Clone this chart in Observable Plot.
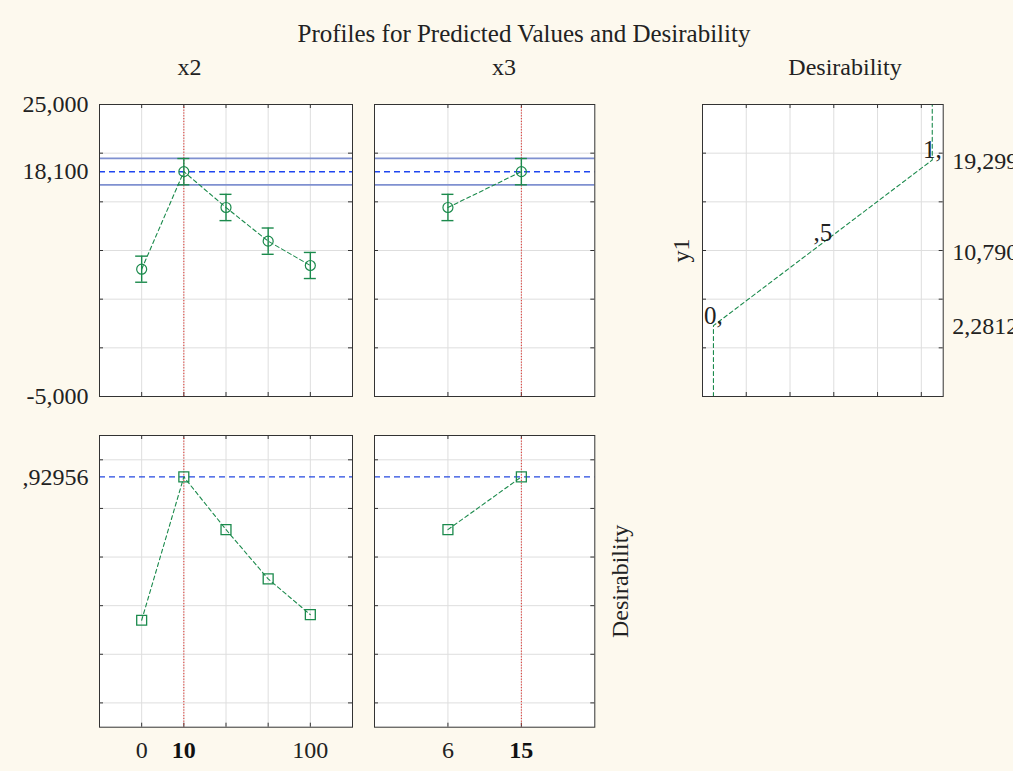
<!DOCTYPE html>
<html><head><meta charset="utf-8">
<script src="https://cdn.jsdelivr.net/npm/d3@7"></script>
<script src="https://cdn.jsdelivr.net/npm/@observablehq/plot@0.6"></script>
<style>
body{margin:0;background:#fdf9ee;}
#root{position:relative;width:1013px;height:771px;overflow:hidden;background:#fdf9ee;font-family:"Liberation Serif","Times New Roman",serif;color:#222;}
#root svg{position:absolute;}
.lbl{position:absolute;font-size:24px;white-space:nowrap;transform:translate(-50%,-50%);line-height:1.1;}
</style></head>
<body><div id="root"></div>
<script>
// ---------- data ----------
const x2Labels = ["0", "10", "", "", "100"];
const x2Pred = [8080, 18100, 14420, 10960, 8460];
const x2Err = [1340, 1350, 1350, 1350, 1340];
const x2Desir = [0.340, 0.92956, 0.713, 0.510, 0.363];
const x3Labels = ["6", "15"];
const x3Pred = [14420, 18100];
const x3Err = [1350, 1350];
const x3Desir = [0.713, 0.92956];
const optX2 = "10", optX3 = "15";
const predOpt = 18100, ciUpper = 19460, ciLower = 16740;
const desirOpt = 0.92956;
const predTicks = [25000, 18100, -5000];
const predTickLabels = ["25,000", "18,100", "-5,000"];
const desirTickLabels = [",92956"];
const desirFnD = [0, 0, 0.5, 1, 1];
const desirFnY = [-5000, 2281.2, 10790, 19299, 25000];
const desirFnMarks = ["", "0,", ",5", "1,", ""];
const desirFnValues = ["", "2,2812", "10,790", "19,299", ""];
const titleText = "Profiles for Predicted Values and Desirability";

// ---------- style ----------
const GREEN = "#1b8a4c", BLUE = "#2448e0", BLUE_CI = "#7f90d0", RED = "#e0302a", GRID = "#dedede", FRAME = "#333";
const FONT = "Liberation Serif, Times New Roman, serif";
const root = document.getElementById("root");

const x2Data = x2Labels.map((l, i) => ({pos: i + 1, label: l, pred: x2Pred[i], err: x2Err[i], d: x2Desir[i]}));
const x3Data = x3Labels.map((l, i) => ({pos: i + 1, label: l, pred: x3Pred[i], err: x3Err[i], d: x3Desir[i]}));
const fnData = desirFnD.map((d, i) => ({d, y: desirFnY[i], mark: desirFnMarks[i], val: desirFnValues[i]}));

function innerTicks(xDom, yDom, xVals, yVals, w, h, len = 4) {
  const ux = (xDom[1] - xDom[0]) / w * len, uy = (yDom[1] - yDom[0]) / h * len;
  const o = {stroke: FRAME, strokeWidth: 1};
  return [
    Plot.ruleY(yVals, {y: d => d, x1: xDom[0], x2: xDom[0] + ux, ...o}),
    Plot.ruleY(yVals, {y: d => d, x1: xDom[1] - ux, x2: xDom[1], ...o}),
    Plot.ruleX(xVals, {x: d => d, y1: yDom[0], y2: yDom[0] + uy, ...o}),
    Plot.ruleX(xVals, {x: d => d, y1: yDom[1] - uy, y2: yDom[1], ...o})
  ];
}

function panel({left, top, width, height, mL, mR, mT, mB, xDom, yDom, xGrid, yGrid, marks}) {
  const iw = width - mL - mR, ih = height - mT - mB;
  const svg = Plot.plot({
    width, height, marginLeft: mL, marginRight: mR, marginTop: mT, marginBottom: mB,
    x: {domain: xDom, axis: null},
    y: {domain: yDom, axis: null},
    style: {background: "transparent", fontFamily: FONT, overflow: "visible", color: "#222"},
    marks: [
      Plot.frame({fill: "white", stroke: null}),
      Plot.gridX(xGrid, {stroke: GRID, strokeOpacity: 1}),
      Plot.gridY(yGrid, {stroke: GRID, strokeOpacity: 1}),
      ...innerTicks(xDom, yDom, xGrid, yGrid, iw, ih),
      ...marks(iw, ih),
      Plot.frame({stroke: FRAME, strokeWidth: 1})
    ]
  });
  svg.style.left = left + "px";
  svg.style.top = top + "px";
  root.appendChild(svg);
}

const predDom = [-5000, 25000];
const predGrid = [0, 5000, 10000, 15000, 20000];
const desDom = [-0.1, 1.1];
const desGrid = [0, 0.2, 0.4, 0.6, 0.8, 1.0];

function predMarks(data, xDom, opt, yLabels) {
  return (iw, ih) => {
    const cap = (xDom[1] - xDom[0]) / iw * 6;
    const m = [
      Plot.ruleY([ciUpper, ciLower], {y: d => d, stroke: BLUE_CI, strokeWidth: 1.6}),
      Plot.ruleY([predOpt], {y: d => d, stroke: "#1f46f0", strokeOpacity: 1, strokeWidth: 1.5, strokeDasharray: "6,4"}),
      Plot.ruleX(data.filter(d => d.label === opt), {x: "pos", stroke: RED, strokeWidth: 1, strokeDasharray: "1.2,1.6"}),
      Plot.line(data, {x: "pos", y: "pred", stroke: GREEN, strokeWidth: 1.1, strokeDasharray: "4,3"}),
      Plot.ruleX(data, {x: "pos", y1: d => d.pred - d.err, y2: d => d.pred + d.err, stroke: GREEN, strokeWidth: 1.4}),
      Plot.ruleY(data, {y: d => d.pred - d.err, x1: d => d.pos - cap, x2: d => d.pos + cap, stroke: GREEN, strokeWidth: 1.4}),
      Plot.ruleY(data, {y: d => d.pred + d.err, x1: d => d.pos - cap, x2: d => d.pos + cap, stroke: GREEN, strokeWidth: 1.4}),
      Plot.dot(data, {x: "pos", y: "pred", r: 5, stroke: GREEN, strokeWidth: 1.2, fill: "none"})
    ];
    if (yLabels) m.push(Plot.text(predTicks, {y: d => d, text: (d, i) => predTickLabels[i], frameAnchor: "left", textAnchor: "end", dx: -11, fontSize: 24, fill: "#222"}));
    return m;
  };
}

function desMarks(data, opt, yLabels, rightLabel) {
  return (iw, ih) => {
    const m = [
      Plot.ruleY([desirOpt], {y: d => d, stroke: BLUE, strokeWidth: 1.3, strokeDasharray: "6,4"}),
      Plot.ruleX(data.filter(d => d.label === opt), {x: "pos", stroke: RED, strokeWidth: 1, strokeDasharray: "1.2,1.6"}),
      Plot.line(data, {x: "pos", y: "d", stroke: GREEN, strokeWidth: 1.1, strokeDasharray: "4,3"}),
      Plot.dot(data, {x: "pos", y: "d", symbol: "square", r: 5.6, stroke: GREEN, strokeWidth: 1.3, fill: "none"}),
      Plot.text(data.filter(d => d.label !== opt), {x: "pos", text: "label", frameAnchor: "bottom", dy: 23.5, lineAnchor: "middle", fontSize: 24, fill: "#222"}),
      Plot.text(data.filter(d => d.label === opt), {x: "pos", text: "label", frameAnchor: "bottom", dy: 23.5, lineAnchor: "middle", fontSize: 24, fontWeight: "bold", fill: "#111"})
    ];
    if (yLabels) m.push(Plot.text([desirOpt], {y: d => d, text: (d, i) => desirTickLabels[i], frameAnchor: "left", textAnchor: "end", dx: -11, fontSize: 24, fill: "#222"}));
    if (rightLabel) m.push(Plot.text([rightLabel], {text: d => d, frameAnchor: "right", textAnchor: "middle", dx: 26, rotate: -90, fontSize: 24, fill: "#222"}));
    return m;
  };
}

// top x2
panel({left: 0, top: 90, width: 360, height: 320, mL: 99, mR: 8, mT: 14, mB: 14,
  xDom: [0, 6], yDom: predDom, xGrid: x2Data.map(d => d.pos), yGrid: predGrid,
  marks: predMarks(x2Data, [0, 6], optX2, true)});
// top x3
panel({left: 360, top: 90, width: 245, height: 320, mL: 14, mR: 10.7, mT: 14, mB: 14,
  xDom: [0, 3], yDom: predDom, xGrid: x3Data.map(d => d.pos), yGrid: predGrid,
  marks: predMarks(x3Data, [0, 3], optX3, false)});
// desirability function
panel({left: 660, top: 90, width: 353, height: 320, mL: 42, mR: 70.3, mT: 14, mB: 14,
  xDom: [-0.05, 1.05], yDom: predDom, xGrid: [0.15, 0.35, 0.55, 0.75, 0.95], yGrid: predGrid,
  marks: () => [
    Plot.line(fnData, {x: "d", y: "y", stroke: GREEN, strokeWidth: 1.1, strokeDasharray: "4,3"}),
    Plot.text(fnData.filter(d => d.mark), {x: "d", y: "y", text: "mark", lineAnchor: "middle", dy: -10, fontSize: 25, fill: "#222"}),
    Plot.text(fnData.filter(d => d.val && d.val !== "10,790"), {x: 1.05, y: "y", text: "val", textAnchor: "start", dx: 9, dy: 1, fontSize: 24, fill: "#222"}),
    Plot.text(fnData.filter(d => d.val === "10,790"), {x: 1.05, y: "y", text: "val", textAnchor: "start", dx: 9, dy: 10, fontSize: 24, fill: "#222"}),
    Plot.text(["y1"], {text: d => d, frameAnchor: "left", textAnchor: "middle", dx: -21, rotate: -90, fontSize: 24, fill: "#222"})
  ]});
// bottom x2
panel({left: 0, top: 420, width: 360, height: 351, mL: 99, mR: 8, mT: 15, mB: 44.3,
  xDom: [0, 6], yDom: desDom, xGrid: x2Data.map(d => d.pos), yGrid: desGrid,
  marks: desMarks(x2Data, optX2, true, null)});
// bottom x3
panel({left: 360, top: 420, width: 280, height: 351, mL: 14, mR: 45.7, mT: 15, mB: 44.3,
  xDom: [0, 3], yDom: desDom, xGrid: x3Data.map(d => d.pos), yGrid: desGrid,
  marks: desMarks(x3Data, optX3, false, "Desirability")});

// titles
function label(text, x, y, size) {
  const d = document.createElement("div");
  d.className = "lbl"; d.textContent = text;
  d.style.left = x + "px"; d.style.top = y + "px";
  if (size) d.style.fontSize = size + "px";
  root.appendChild(d);
}
label(titleText, 524, 34, 25);
label("x2", 189.5, 67);
label("x3", 504, 67);
label("Desirability", 845, 67);
</script>
</body></html>
